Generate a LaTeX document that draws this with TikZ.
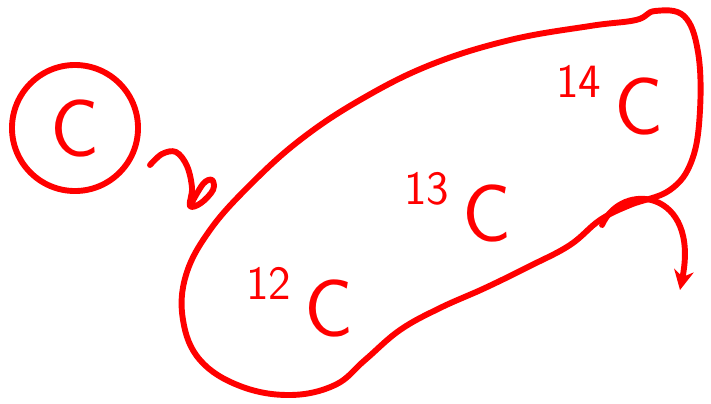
\documentclass[tikz,border=0pt]{standalone}
\usetikzlibrary{arrows.meta, positioning, calc}
\definecolor{ink}{HTML}{FF0000}
\tikzset{
  pen/.style  = {draw=ink, line width=4.2pt, line cap=round, line join=round},
  atom/.style = {circle, draw=ink, line width=4.2pt, minimum size=3.15cm,
                 text=ink, font=\fontsize{58}{58}\selectfont\sffamily},
  iso/.style  = {text=ink, inner sep=0pt,
                 font=\fontsize{58}{58}\selectfont\sffamily},
  larr/.style = {-{Stealth[length=14pt,width=14pt]}, pen},
}
\newcommand{\isotope}[2]{\raisebox{0.45em}{\fontsize{34}{34}\selectfont #1}\,#2}

\begin{document}
\begin{tikzpicture}[x=0.025cm, y=-0.025cm]
  \useasboundingbox (0,0) rectangle (711,403);

  % lone carbon atom
  \node[atom] (carbon) at (75,128) {C};

  % squiggle beside it
  \draw[pen] plot[smooth, tension=0.6] coordinates
    {(150,165) (162,154) (176,152) (187,166) (192,188) (190,206)
     (201,203) (213,190) (212,180) (203,184) (190,206)};

  % the set of isotopes
  \draw[pen] plot[smooth cycle, tension=0.65] coordinates
    {(655,11) (684,16) (698,52) (700,110) (692,160) (670,190) (630,205)
     (600,220) (570,245) (530,266) (485,288) (440,308) (400,330)
     (365,360) (335,385) (290,395) (240,386) (200,360) (183,320)
     (186,275) (210,230) (250,185) (300,140) (360,100) (430,65)
     (510,40) (590,26) (636,20)};

  \node[iso] (c14) at (610,100) {\isotope{14}{C}};
  \node[iso] (c13) at (458,207) {\isotope{13}{C}};
  \node[iso] (c12) at (300,302) {\isotope{12}{C}};

  % loop back onto the set
  \coordinate (loopa) at (602,225);
  \coordinate (loopb) at (680,290);
  \draw[larr] (loopa) .. controls (622,180) and (700,190) .. (loopb);

\end{tikzpicture}
\end{document}
